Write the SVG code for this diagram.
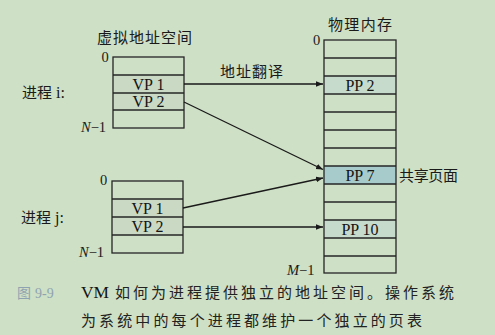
<svg xmlns="http://www.w3.org/2000/svg" width="495" height="335" viewBox="0 0 495 335">
  <defs>
    <style>
      .cell { fill: none; stroke: #262626; stroke-width: 1.3; }
      .vp { fill: #c9d9c4; }
      .pp { fill: #c6dbcb; }
      .shared { fill: #a7cbcb; }
      .cjk { font-family: "Noto Sans CJK SC", "Noto Sans", sans-serif; font-size: 15px; fill: #1a1a1a; }
      .lat { font-family: "Liberation Serif", "Times New Roman", serif; font-size: 16px; fill: #141414; }
      .idx { font-family: "Liberation Serif", "Times New Roman", serif; font-size: 14.5px; fill: #1a1a1a; }
      .cap { font-family: "Noto Sans CJK SC", "Noto Sans", sans-serif; font-size: 15px; fill: #222; }
      .edge { stroke: #1a1a1a; stroke-width: 1.3; fill: none; marker-end: url(#arrow); }
    </style>
    <marker id="arrow" viewBox="0 0 10 10" refX="10" refY="5" markerWidth="7" markerHeight="7" markerUnits="userSpaceOnUse" orient="auto">
      <path d="M0,1 L10,5 L0,9 Z" fill="#1a1a1a"/>
    </marker>
  </defs>

  <!-- page background -->
  <rect x="0" y="0" width="495" height="335" fill="#cee0c5"/>

  <!-- process i: virtual address space -->
  <g id="vas-i">
    <text class="cjk" x="97" y="42.5" textLength="95" lengthAdjust="spacing">虚拟地址空间</text>
    <text class="idx" x="101.5" y="62">0</text>
    <text class="idx" x="81" y="132"><tspan font-style="italic">N</tspan>−1</text>
    <rect class="vp" x="113" y="75" width="71" height="35"/>
    <rect class="cell" x="113" y="57" width="71" height="71"/>
    <line class="cell" x1="113" y1="75" x2="184" y2="75"/>
    <line class="cell" x1="113" y1="93" x2="184" y2="93"/>
    <line class="cell" x1="113" y1="110" x2="184" y2="110"/>
    <text class="lat" x="148.5" y="89.5" text-anchor="middle">VP 1</text>
    <text class="lat" x="148.5" y="107" text-anchor="middle">VP 2</text>
  </g>
  <g id="label-i">
    <text class="cjk" x="22" y="97.5">进程<tspan class="lat" dx="4">i:</tspan></text>
  </g>

  <!-- process j: virtual address space -->
  <g id="vas-j">
    <text class="idx" x="100" y="185">0</text>
    <text class="idx" x="79" y="256.5"><tspan font-style="italic">N</tspan>−1</text>
    <rect class="vp" x="112" y="199" width="71" height="36"/>
    <rect class="cell" x="112" y="181" width="71" height="72"/>
    <line class="cell" x1="112" y1="199" x2="183" y2="199"/>
    <line class="cell" x1="112" y1="217" x2="183" y2="217"/>
    <line class="cell" x1="112" y1="235" x2="183" y2="235"/>
    <text class="lat" x="147.5" y="213.5" text-anchor="middle">VP 1</text>
    <text class="lat" x="147.5" y="231.5" text-anchor="middle">VP 2</text>
  </g>
  <g id="label-j">
    <text class="cjk" x="21" y="223">进程<tspan class="lat" dx="4">j:</tspan></text>
  </g>

  <!-- physical memory: 13 pages -->
  <g id="phys-mem">
    <text class="cjk" x="328" y="29.5" textLength="64" lengthAdjust="spacing">物理内存</text>
    <text class="idx" x="313" y="45">0</text>
    <text class="idx" x="287" y="274.5"><tspan font-style="italic">M</tspan>−1</text>
    <rect class="pp" x="324" y="76" width="72" height="18"/>
    <rect class="shared" x="324" y="166" width="72" height="18"/>
    <rect class="pp" x="324" y="220" width="72" height="18"/>
    <rect class="cell" x="324" y="40" width="72" height="233"/>
    <line class="cell" x1="324" y1="58" x2="396" y2="58"/>
    <line class="cell" x1="324" y1="76" x2="396" y2="76"/>
    <line class="cell" x1="324" y1="94" x2="396" y2="94"/>
    <line class="cell" x1="324" y1="112" x2="396" y2="112"/>
    <line class="cell" x1="324" y1="130" x2="396" y2="130"/>
    <line class="cell" x1="324" y1="148" x2="396" y2="148"/>
    <line class="cell" x1="324" y1="166" x2="396" y2="166"/>
    <line class="cell" x1="324" y1="184" x2="396" y2="184"/>
    <line class="cell" x1="324" y1="202" x2="396" y2="202"/>
    <line class="cell" x1="324" y1="220" x2="396" y2="220"/>
    <line class="cell" x1="324" y1="238" x2="396" y2="238"/>
    <line class="cell" x1="324" y1="256" x2="396" y2="256"/>
    <text class="lat" x="360" y="90.5" text-anchor="middle">PP 2</text>
    <text class="lat" x="360" y="180.5" text-anchor="middle">PP 7</text>
    <text class="lat" x="360" y="234.5" text-anchor="middle">PP 10</text>
  </g>
  <g id="shared-label">
    <text class="cjk" x="399" y="181" textLength="59" lengthAdjust="spacing">共享页面</text>
  </g>

  <!-- address translation arrows -->
  <g id="connectors">
    <line class="edge" x1="184" y1="84" x2="323" y2="84"/>
    <line class="edge" x1="184" y1="102" x2="323" y2="169.5"/>
    <line class="edge" x1="183" y1="208" x2="323" y2="178"/>
    <line class="edge" x1="183" y1="227" x2="323" y2="227"/>
    <text class="cjk" x="220" y="77" textLength="63" lengthAdjust="spacing">地址翻译</text>
  </g>

  <!-- figure caption -->
  <g id="caption">
    <text x="17" y="298" font-family="Noto Sans CJK SC, sans-serif" font-size="14" fill="#8ea3b1">图<tspan font-family="Liberation Serif, serif" dx="4">9-9</tspan></text>
    <text class="lat" x="81" y="298" font-size="16" textLength="28" lengthAdjust="spacingAndGlyphs">VM</text>
    <text class="cap" x="115" y="298" textLength="339" lengthAdjust="spacing">如何为进程提供独立的地址空间。操作系统</text>
    <text class="cap" x="81" y="325.5" textLength="341" lengthAdjust="spacing">为系统中的每个进程都维护一个独立的页表</text>
  </g>
</svg>
